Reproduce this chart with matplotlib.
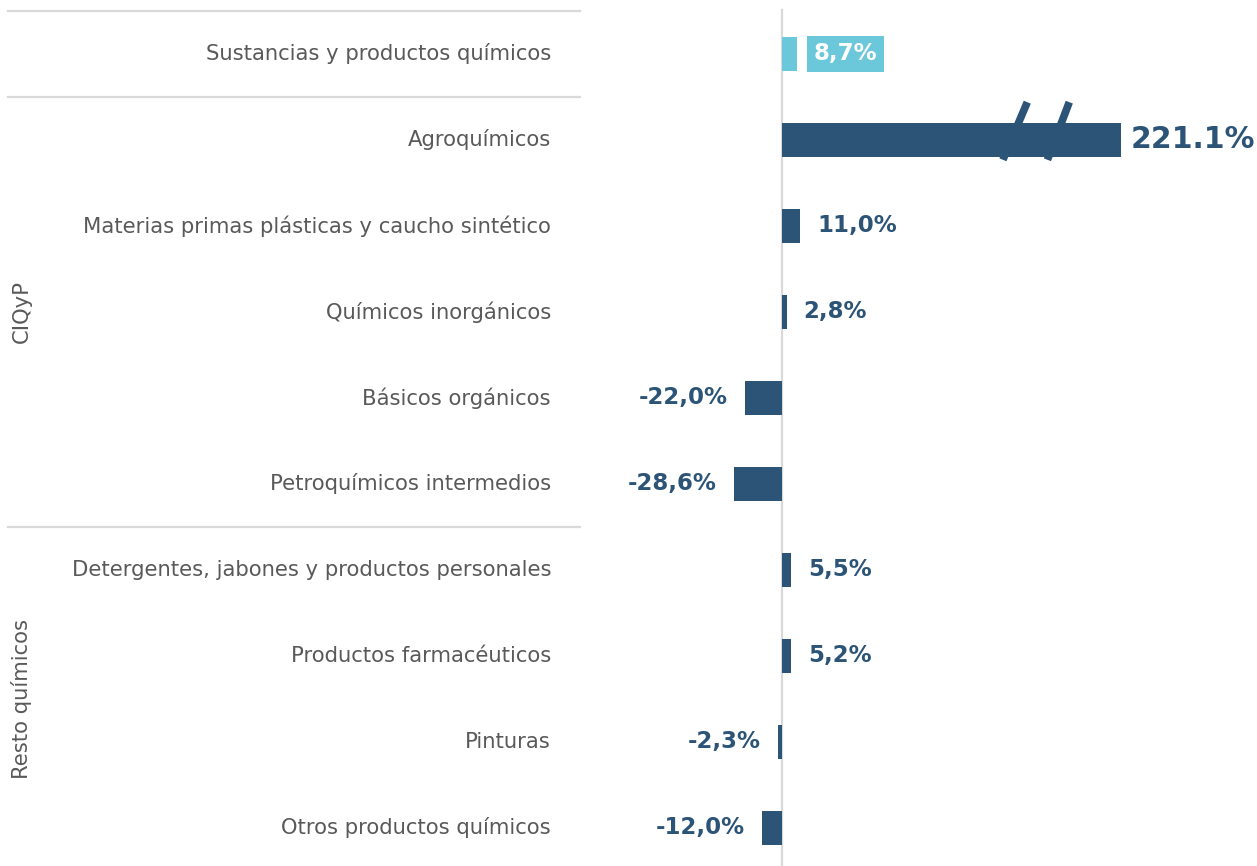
import matplotlib
matplotlib.use("Agg")
import matplotlib.pyplot as plt
from matplotlib.transforms import blended_transform_factory

# =====================================================
# DATA
# =====================================================

categories = [
    "Sustancias y productos químicos",
    "Agroquímicos",
    "Materias primas plásticas y caucho sintético",
    "Químicos inorgánicos",
    "Básicos orgánicos",
    "Petroquímicos intermedios",
    "Detergentes, jabones y productos personales",
    "Productos farmacéuticos",
    "Pinturas",
    "Otros productos químicos",
]
values = [8.7, 221.1, 11.0, 2.8, -22.0, -28.6, 5.5, 5.2, -2.3, -12.0]
value_labels = ["8,7%", "221.1%", "11,0%", "2,8%", "-22,0%", "-28,6%",
                "5,5%", "5,2%", "-2,3%", "-12,0%"]
groups = [("CIQyP", 1, 5), ("Resto químicos", 6, 9)]
separators = [-0.5, 0.5, 5.5]

# bar is cut (axis break) at this value
BREAK_AT = 202

DARK = "#2c5477"
LIGHT = "#6bc8db"
GREY_TXT = "#595959"
GRID = "#d9d9d9"

W, H = 1257, 866
fig = plt.figure(figsize=(W / 100, H / 100), dpi=100)

zero_px = 782
px_per_unit = 1.68
ax_left_px = 590
ax = fig.add_axes([ax_left_px / W, 0, 1 - ax_left_px / W, 1])
ax.set_xlim((ax_left_px - zero_px) / px_per_unit, (W - zero_px) / px_per_unit)
ax.set_ylim((H - 54) / 86, -54 / 86)
ax.axis("off")

ypos = list(range(len(categories)))
shown = [min(v, BREAK_AT) for v in values]
colors = [LIGHT] + [DARK] * (len(values) - 1)
ax.barh(ypos, shown, height=0.4, color=colors, zorder=3)

# zero line
ax.plot([0, 0], [(10 - 54) / 86, (H - 54) / 86], color=GRID, lw=1.6, zorder=2,
        clip_on=False)

# value labels
gap = 17 / px_per_unit
for i, (v, s, lab) in enumerate(zip(values, shown, value_labels)):
    if i == 0:
        ax.text(s + 17 / px_per_unit, i, lab, ha="left", va="center",
                color="white", fontsize=16.5, fontweight="bold", zorder=4,
                bbox=dict(boxstyle="square,pad=0.3", fc=LIGHT, ec="none"))
    elif v > BREAK_AT:
        ax.text(s + 9 / px_per_unit, i, lab, ha="left", va="center",
                color=DARK, fontsize=21.5, fontweight="heavy", zorder=4)
    elif v >= 0:
        ax.text(s + gap, i, lab, ha="left", va="center",
                color=DARK, fontsize=16.5, fontweight="bold", zorder=4)
    else:
        ax.text(s - gap, i, lab, ha="right", va="center",
                color=DARK, fontsize=16.5, fontweight="bold", zorder=4)

# break marks on the long bar
i_brk = values.index(max(values))
for xb, xt in [(131.5, 146), (158, 171)]:
    ax.plot([xb, xt], [i_brk + 0.23, i_brk - 0.44], color=DARK, lw=5.5,
            solid_capstyle="butt", zorder=5, clip_on=False)

# category labels
tr = blended_transform_factory(fig.transFigure, ax.transData)
for i, c in enumerate(categories):
    ax.text(551 / W, i, c, transform=tr, ha="right", va="center",
            color=GREY_TXT, fontsize=15.2)

# separators
for y in separators:
    ax.plot([8 / W, 580 / W], [y, y], transform=tr, color=GRID, lw=1.6,
            clip_on=False)

# group labels
for name, a, b in groups:
    ax.text(22 / W, (a + b) / 2, name, transform=tr, rotation=90,
            ha="center", va="center", color=GREY_TXT, fontsize=15.2)

fig.savefig("out.png", dpi=100)
